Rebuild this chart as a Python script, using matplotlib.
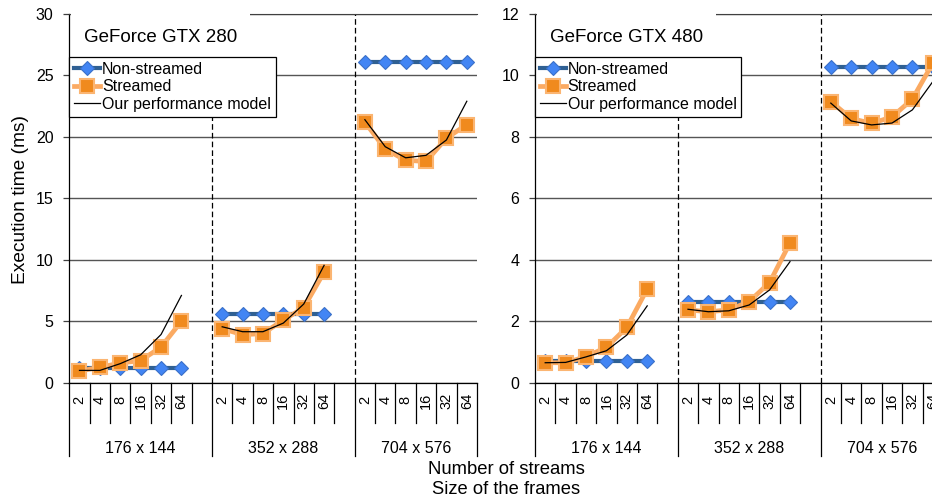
import numpy as np
import matplotlib.pyplot as plt
from matplotlib.patches import Rectangle

plt.rcParams['font.family'] = ['Liberation Sans', 'DejaVu Sans']

# category labels
streams = ['2', '4', '8', '16', '32', '64']
frame_sizes = ['176 x 144', '352 x 288', '704 x 576']

# GeForce GTX 280 (ms), one row per frame size
gtx280_non = [[1.2, 1.2, 1.2, 1.2, 1.2, 1.2],
              [5.6, 5.6, 5.6, 5.6, 5.6, 5.6],
              [26.1, 26.1, 26.1, 26.1, 26.1, 26.1]]
gtx280_str = [[0.95, 1.25, 1.6, 1.8, 2.9, 5.0],
              [4.4, 3.9, 4.0, 5.1, 6.1, 9.0],
              [21.2, 19.0, 18.1, 18.0, 19.9, 21.0]]
gtx280_model = [[1.0, 1.0, 1.55, 2.27, 3.92, 7.1],
                [4.55, 4.15, 4.15, 4.85, 6.4, 9.55],
                [21.4, 19.2, 18.3, 18.5, 19.75, 22.9]]

# GeForce GTX 480 (ms)
gtx480_non = [[0.7, 0.7, 0.7, 0.7, 0.7, 0.7],
              [2.63, 2.63, 2.63, 2.63, 2.63, 2.63],
              [10.28, 10.28, 10.28, 10.28, 10.28, 10.28]]
gtx480_str = [[0.65, 0.65, 0.85, 1.15, 1.8, 3.05],
              [2.37, 2.31, 2.37, 2.64, 3.26, 4.55],
              [9.15, 8.6, 8.44, 8.65, 9.23, 10.4]]
gtx480_model = [[0.65, 0.66, 0.84, 1.04, 1.55, 2.5],
                [2.39, 2.31, 2.34, 2.53, 3.02, 3.94],
                [9.1, 8.52, 8.39, 8.45, 8.88, 9.8]]

W, H = 932, 503
fig = plt.figure(figsize=(W / 100, H / 100), dpi=100)


def px_axes(x0, x1, y_top, y_bot):
    return fig.add_axes([x0 / W, (H - y_bot) / H, (x1 - x0) / W, (y_bot - y_top) / H])


def draw_panel(ax, non, strm, model, ymax, ystep, title):
    n_slots = 20
    ax.set_xlim(0, n_slots)
    ax.set_ylim(0, ymax)
    ax.set_yticks(np.arange(0, ymax + ystep / 2, ystep))
    ax.set_xticks([])
    ax.yaxis.grid(True, color='#555555', lw=1.0)
    ax.set_axisbelow(True)
    ax.spines['right'].set_visible(False)
    ax.spines['top'].set_color('#404040')
    ax.spines['left'].set_linewidth(0.9)
    ax.spines['bottom'].set_linewidth(0.9)
    ax.tick_params(axis='y', length=4.3, width=0.9, color='#404040', pad=7, labelsize=11.5)

    for xb in (7, 14):
        ax.axvline(xb, color='black', lw=0.9, ls=(0, (4.5, 2.5)), zorder=1.5)

    for g in range(3):
        x = 7 * g + np.arange(len(streams)) + 0.5
        ax.plot(x, non[g], color='#2F6093', lw=3.0, marker='D', ms=7.5,
                mfc='#4285F4', mec='#3A70C8', mew=0.8,
                label='Non-streamed' if g == 0 else None, zorder=3)
        ax.plot(x, strm[g], color='#FBAA62', lw=3.4, marker='s', ms=9.5,
                mfc='#F08A1E', mec='#FBB572', mew=1.5,
                label='Streamed' if g == 0 else None, zorder=3.2)
        ax.plot(x, model[g], color='black', lw=0.9,
                label='Our performance model' if g == 0 else None, zorder=3.4)

    # category axis below the plot
    tr = ax.get_xaxis_transform()
    for b in range(n_slots + 1):
        long = b in (0, 7, 14, n_slots)
        ax.plot([b, b], [0, -0.199 if long else -0.1085], transform=tr,
                color='black', lw=0.9, clip_on=False)
    for g in range(3):
        for k, s in enumerate(streams):
            ax.text(7 * g + k + 0.5, -0.048, s, transform=tr, rotation=90,
                    ha='center', va='center', fontsize=10.5)
        x0, x1 = 7 * g, min(7 * g + 7, n_slots)
        ax.text((x0 + x1) / 2, -0.179, frame_sizes[g], transform=tr,
                ha='center', va='center', fontsize=11.5)

    # title box and legend in the upper left
    ax.add_patch(Rectangle((0.004, 0.883), 0.44, 0.13, transform=ax.transAxes,
                           facecolor='white', edgecolor='none', zorder=3.6, clip_on=False))
    ax.text(0.036, 0.9376, title, transform=ax.transAxes, fontsize=13.5,
            ha='left', va='center', zorder=4)
    leg = ax.legend(loc='upper left', bbox_to_anchor=(0, 0.883), borderaxespad=0,
                    fancybox=False, edgecolor='black', framealpha=1, fontsize=11.5,
                    handlelength=1.65, handletextpad=0.1, borderpad=0.3,
                    labelspacing=0.15, numpoints=1)
    leg.get_frame().set_linewidth(0.9)
    leg.set_zorder(5)


ax1 = px_axes(69.3, 477, 14, 382.7)
ax2 = px_axes(535, 943, 14, 382.7)
draw_panel(ax1, gtx280_non, gtx280_str, gtx280_model, 30, 5, 'GeForce GTX 280')
draw_panel(ax2, gtx480_non, gtx480_str, gtx480_model, 12, 2, 'GeForce GTX 480')

fig.text(21 / W, (H - 200) / H, 'Execution time (ms)', rotation=90,
         ha='center', va='center', fontsize=13.8)
fig.text(506 / W, (H - 469) / H, 'Number of streams', ha='center', va='center', fontsize=13.3)
fig.text(506 / W, (H - 490) / H, 'Size of the frames', ha='center', va='center', fontsize=13.2)

fig.savefig('out.png', dpi=100)
